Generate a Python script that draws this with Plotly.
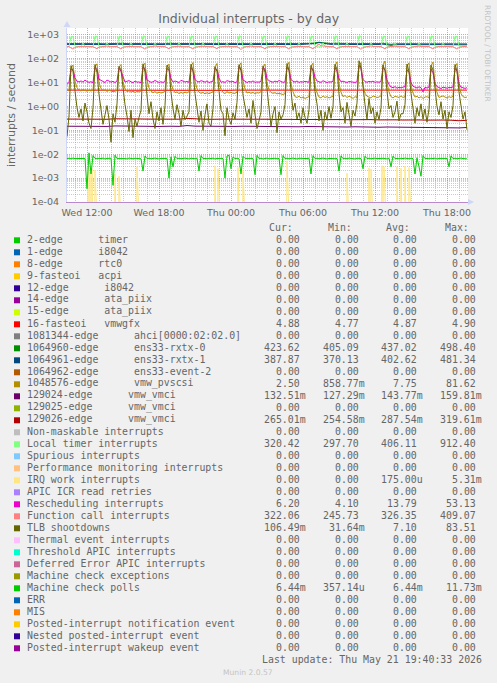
import plotly.graph_objects as go
from datetime import datetime, timedelta

# ---------------- data ----------------
START = datetime(2026, 5, 20, 10, 20)
VIEW_END = datetime(2026, 5, 21, 19, 45)

# 10-minute samples (Wed 10:20 .. Thu 19:40)
local_timer = [
    320, 324, 870, 845, 340, 322, 318, 325, 465, 330, 319, 321,
    318, 327, 895, 870, 332, 320, 323, 319, 480, 338, 321, 318,
    322, 320, 885, 860, 338, 317, 321, 326, 472, 333, 318, 323,
    319, 325, 900, 875, 336, 323, 318, 322, 468, 329, 324, 320,
    321, 318, 875, 850, 341, 319, 325, 320, 485, 335, 317, 322,
    317, 326, 890, 865, 334, 324, 320, 318, 476, 331, 322, 319,
    323, 321, 880, 858, 339, 318, 322, 327, 470, 337, 320, 316,
    320, 319, 905, 880, 333, 325, 317, 321, 482, 332, 323, 321,
    316, 324, 885, 862, 337, 320, 326, 319, 474, 334, 318, 324,
    322, 320, 898, 870, 335, 321, 297.7, 323, 479, 330, 321, 317,
    319, 327, 878, 855, 342, 318, 323, 320, 467, 336, 319, 322,
    321, 318, 892, 868, 331, 323, 320, 325, 484, 333, 324, 318,
    318, 325, 912.4, 885, 338, 319, 322, 317, 471, 329, 320, 323,
    323, 319, 888, 860, 336, 324, 318, 321, 478, 335, 317, 320,
    317, 322, 880, 852, 340, 320, 325, 318, 473, 331, 322, 319,
    320, 324, 895, 872, 334, 317, 321, 324, 469, 337, 318, 321,
    319, 321, 884, 858, 339, 322, 318, 323, 320.42,
]

function_call = [
    326, 330, 285, 258, 300, 321, 332, 327, 338, 325, 328, 331,
    329, 324, 292, 265, 308, 326, 328, 333, 342, 322, 330, 326,
    325, 331, 288, 260, 303, 323, 334, 329, 336, 327, 325, 329,
    330, 327, 283, 255, 298, 320, 329, 325, 345, 330, 332, 324,
    324, 329, 290, 263, 306, 325, 331, 328, 339, 323, 327, 330,
    328, 325, 287, 259, 301, 322, 327, 334, 341, 328, 331, 325,
    326, 332, 293, 266, 309, 324, 330, 326, 337, 326, 324, 328,
    331, 326, 284, 245.7, 297, 319, 333, 329, 344, 324, 329, 332,
    325, 328, 291, 262, 304, 327, 328, 331, 338, 325, 330, 326,
    327, 333, 286, 257, 302, 321, 334, 327, 340, 329, 326, 330,
    329, 324, 289, 264, 307, 360, 409, 350, 343, 325, 331, 327,
    324, 330, 285, 260, 300, 323, 331, 328, 338, 327, 328, 325,
    330, 327, 282, 252, 296, 320, 327, 333, 346, 330, 325, 329,
    326, 331, 290, 263, 305, 324, 332, 326, 339, 323, 330, 328,
    328, 325, 288, 259, 303, 322, 329, 331, 342, 328, 327, 324,
    325, 329, 286, 261, 301, 326, 333, 327, 337, 326, 329, 331,
    327, 324, 284, 258, 299, 321, 328, 330, 322.06,
]

rescheduling = [
    8.5, 10.2, 38, 33, 16, 11.5, 10.8, 11.9, 10.6, 12.8, 11.2, 10.4,
    11.0, 10.1, 44, 36, 14, 12.5, 11.3, 10.2, 12.9, 11.8, 10.6, 11.4,
    10.2, 11.8, 41, 30, 17, 10.7, 11.5, 12.2, 10.9, 10.1, 11.7, 10.6,
    10.8, 9.9, 46, 38, 13, 11.9, 10.4, 10.9, 12.4, 11.2, 10.3, 11.0,
    10.3, 11.2, 39, 34, 15, 10.6, 11.8, 11.1, 10.2, 12.6, 11.4, 10.7,
    11.3, 10.4, 43, 31, 14, 11.2, 10.8, 12.1, 11.5, 10.5, 11.9, 10.2,
    10.9, 11.6, 40, 35, 16, 10.4, 11.1, 10.3, 12.2, 11.4, 10.8, 11.5,
    10.1, 10.9, 47, 33, 13, 11.6, 10.2, 11.3, 10.6, 11.9, 10.4, 10.8,
    10.6, 11.3, 42, 37, 15, 12.0, 11.4, 10.5, 11.7, 10.8, 12.3, 11.1,
    10.4, 10.8, 45, 32, 14, 11.3, 10.7, 11.8, 10.3, 11.1, 10.6, 11.4,
    11.2, 10.5, 41, 36, 17, 11.8, 10.9, 10.4, 12.1, 11.5, 10.2, 10.9,
    10.7, 11.4, 44, 30, 15, 10.9, 11.6, 10.8, 10.3, 11.2, 10.7, 10.1,
    10.3, 10.9, 53.1, 38, 14, 11.1, 10.5, 11.3, 10.8, 11.6, 10.4, 10.9,
    10.5, 11.2, 44, 34, 13, 8.5, 6.6, 6.2, 6.8, 5.9, 6.4, 6.1,
    6.3, 6.9, 35, 28, 10, 7.1, 6.5, 6.0, 6.7, 6.2, 4.1, 6.4,
    6.0, 6.6, 38, 26, 9.5, 6.8, 6.3, 5.7, 6.5, 6.1, 5.9, 6.3,
    6.2, 6.7, 40, 30, 9.0, 6.5, 6.1, 5.8, 6.2,
]

pvscsi = [
    4.6, 5.0, 42, 55, 12, 6.2, 4.9, 4.5, 5.1, 4.7, 4.4, 4.8,
    4.5, 4.9, 48, 62, 10, 5.8, 4.6, 5.0, 4.3, 4.8, 4.5, 4.2,
    4.4, 4.7, 45, 58, 11, 5.5, 4.2, 4.6, 4.0, 4.4, 3.9, 4.3,
    4.1, 4.5, 52, 66, 13, 6.0, 4.4, 3.8, 4.2, 3.6, 4.0, 3.7,
    3.9, 4.3, 47, 60, 10, 5.2, 3.8, 4.1, 3.5, 3.9, 3.6, 4.0,
    3.7, 4.2, 50, 70, 12, 5.6, 4.0, 3.6, 3.9, 3.4, 3.8, 3.5,
    3.8, 4.1, 46, 64, 11, 5.3, 3.9, 3.5, 4.2, 3.7, 3.9, 3.6,
    3.6, 4.0, 49, 68, 12, 5.5, 3.7, 4.0, 3.6, 3.9, 3.5, 3.8,
    3.7, 4.2, 45, 60, 10, 5.0, 3.9, 3.6, 3.8, 3.4, 3.6, 3.3,
    3.2, 3.5, 51, 72, 9, 4.2, 2.6, 2.4, 2.7, 2.3, 2.5, 2.2,
    2.4, 2.6, 48, 66, 8, 3.8, 2.5, 2.3, 2.8, 2.4, 2.6, 2.3,
    2.5, 2.7, 53, 75, 9, 4.0, 2.6, 2.9, 2.4, 2.7, 2.5, 2.2,
    2.6, 2.4, 50, 70, 8, 3.6, 2.7, 2.5, 2.3, 2.8, 2.6, 2.4,
    2.5, 2.8, 55, 81.6, 10, 4.1, 2.6, 2.3, 2.7, 2.5, 2.4, 2.8,
    2.4, 2.6, 49, 68, 8, 3.7, 2.5, 2.7, 2.3, 2.6, 2.2, 2.5,
    2.6, 2.3, 52, 73, 9, 3.9, 2.4, 2.6, 2.8, 2.5, 2.3, 2.6,
    2.4, 2.7, 47, 64, 8, 3.5, 2.6, 2.4, 2.5,
]

tlb_shootdowns = [
    0.055, 0.4, 52, 30, 4.5, 0.9, 0.35, 0.8, 0.25, 1.4, 0.6, 0.2,
    0.12, 0.9, 58, 26, 3.2, 0.6, 0.18, 0.45, 1.1, 0.3, 0.032, 0.5,
    0.22, 1.3, 49, 34, 5.1, 1.2, 0.4, 0.09, 0.7, 0.05, 0.3, 0.15,
    0.35, 0.7, 62, 28, 2.8, 0.5, 1.6, 0.3, 0.12, 0.6, 0.25, 0.9,
    0.18, 1.1, 55, 38, 4.0, 0.8, 0.3, 1.2, 0.5, 0.15, 0.7, 0.28,
    0.4, 0.6, 60, 31, 3.5, 1.0, 0.22, 0.65, 0.1, 0.45, 1.3, 0.2,
    0.15, 0.85, 47, 29, 4.8, 0.7, 0.5, 0.06, 0.9, 0.3, 0.18, 0.55,
    0.3, 1.5, 57, 35, 3.0, 1.1, 0.35, 0.8, 0.2, 1.8, 0.4, 0.12,
    0.25, 0.6, 51, 27, 5.5, 0.9, 0.15, 0.5, 1.0, 0.08, 0.6, 0.3,
    0.45, 1.2, 64, 33, 3.8, 0.7, 1.4, 0.3, 0.55, 0.2, 0.9, 0.35,
    0.2, 0.75, 53, 30, 4.2, 1.3, 0.25, 0.7, 0.1, 0.6, 0.28, 1.0,
    0.32, 1.0, 59, 36, 3.3, 0.6, 0.9, 0.2, 1.5, 0.4, 0.15, 0.7,
    0.4, 1.4, 83.5, 40, 6.0, 1.2, 0.3, 2.2, 0.5, 0.9, 0.2, 0.6,
    0.28, 0.9, 56, 32, 4.5, 0.8, 1.1, 0.35, 0.6, 1.7, 0.25, 0.5,
    0.5, 1.2, 61, 29, 3.6, 0.7, 0.2, 0.9, 0.4, 1.3, 0.3, 0.8,
    0.22, 0.8, 54, 34, 5.0, 1.0, 0.45, 1.6, 0.3, 0.7, 0.12, 0.6,
    0.35, 1.1, 58, 31, 4.0, 0.9, 0.3, 0.6, 0.106,
]

machine_check_polls = [
    0.0066, 0.0068, 0.0065, 0.0069, 0.0066, 0.0067, 0.0064, 0.0068, 0.0066, 0.0067, 0.00036, 0.0115,
    0.0015, 0.0088, 0.0067, 0.0065, 0.0068, 0.0066, 0.0069, 0.0064, 0.0067, 0.0066, 0.0068, 0.0005,
    0.0092, 0.0066, 0.0067, 0.0065, 0.0068, 0.0066, 0.0064, 0.0069, 0.0067, 0.0065, 0.0068, 0.0066,
    0.0067, 0.0065, 0.002, 0.0085, 0.0066, 0.0068, 0.0065, 0.0067, 0.0069, 0.0066, 0.0064, 0.0067,
    0.0068, 0.0066, 0.0067, 0.001, 0.0078, 0.003, 0.0082, 0.0066, 0.0068, 0.0065, 0.0067, 0.0069,
    0.0066, 0.0064, 0.0068, 0.0067, 0.0065, 0.0069, 0.002, 0.0088, 0.0066, 0.0067, 0.0065, 0.0068,
    0.0066, 0.0069, 0.0064, 0.0067, 0.0068, 0.0065, 0.0067, 0.001, 0.0085, 0.0092, 0.0025, 0.0078,
    0.0066, 0.0068, 0.0065, 0.0015, 0.0082, 0.0067, 0.0066, 0.0068, 0.0065, 0.0067, 0.0014, 0.009,
    0.0066, 0.0068, 0.0064, 0.0067, 0.0069, 0.0065, 0.0067, 0.0066, 0.0068, 0.0065, 0.0067, 0.0014,
    0.0088, 0.0066, 0.0068, 0.0065, 0.0067, 0.0069, 0.0066, 0.0064, 0.0068, 0.0067, 0.0065, 0.0068,
    0.0066, 0.0069, 0.0015, 0.0087, 0.0066, 0.0068, 0.0065, 0.0067, 0.0069, 0.0066, 0.0064, 0.0067,
    0.0068, 0.0066, 0.0065, 0.0067, 0.002, 0.0086, 0.0066, 0.0068, 0.0065, 0.0069, 0.0067, 0.0066,
    0.0064, 0.0068, 0.0066, 0.0067, 0.0025, 0.0083, 0.0066, 0.0068, 0.0065, 0.0067, 0.0069, 0.0066,
    0.0065, 0.0067, 0.0068, 0.0066, 0.0064, 0.0069, 0.003, 0.0084, 0.0066, 0.0067, 0.0065, 0.0068,
    0.0066, 0.0069, 0.0067, 0.0065, 0.0068, 0.0066, 0.0015, 0.0072, 0.003, 0.0012, 0.0088, 0.0066,
    0.0067, 0.0065, 0.0068, 0.0066, 0.0069, 0.0064, 0.0067, 0.0066, 0.0068, 0.0065, 0.0067, 0.003,
    0.0086, 0.0066, 0.0068, 0.0065, 0.0067, 0.0069, 0.0066, 0.0065, 0.00644,
]

# 20-minute samples
rxtx0 = [
    438, 445, 432, 440, 436, 442, 434, 450, 439, 431, 444, 437,
    441, 447, 435, 438, 433, 440, 436, 452, 441, 434, 439, 443,
    432, 446, 437, 441, 435, 438, 440, 449, 433, 437, 442, 436,
    437, 444, 439, 432, 438, 441, 435, 451, 436, 440, 434, 439,
    442, 448, 434, 437, 441, 433, 438, 453, 440, 436, 432, 440,
    436, 447, 465, 498.4, 470, 445, 439, 450, 437, 434, 440, 436,
    433, 446, 438, 441, 435, 439, 437, 452, 432, 405.1, 428, 434,
    431, 445, 428, 433, 427, 430, 429, 448, 431, 426, 432, 428,
    430, 444, 427, 425, 423.62,
]
rxtx1 = [
    402, 409, 398, 404, 400, 406, 399, 413, 403, 396, 407, 401,
    405, 410, 399, 402, 397, 404, 400, 415, 405, 398, 403, 407,
    396, 409, 401, 405, 399, 402, 404, 412, 397, 401, 406, 400,
    401, 408, 403, 396, 402, 405, 399, 414, 400, 404, 398, 403,
    406, 411, 398, 401, 405, 397, 402, 416, 404, 400, 396, 404,
    400, 410, 440, 481.3, 445, 410, 403, 413, 401, 398, 404, 400,
    397, 409, 402, 405, 399, 403, 401, 415, 396, 370.1, 392, 398,
    395, 408, 392, 397, 391, 394, 393, 411, 395, 390, 396, 392,
    394, 407, 391, 389, 387.87,
]

# 40-minute samples
vmwgfx = [
    4.88, 4.86, 4.87, 4.89, 4.85, 4.87, 4.88, 4.86, 4.90, 4.87, 4.86, 4.88, 4.87,
    4.85, 4.89, 4.87, 4.86, 4.88, 4.87, 4.86, 4.77, 4.87, 4.88, 4.86, 4.87, 4.89,
    4.86, 4.87, 4.88, 4.85, 4.87, 4.86, 4.88, 4.87, 4.89, 4.86, 4.87, 4.88, 4.86,
    4.87, 4.85, 4.88, 4.87, 4.86, 4.89, 4.87, 4.86, 4.88, 4.87, 4.86, 4.88,
]
vmci_129026 = [
    0.300, 0.296, 0.305, 0.298, 0.302, 0.295, 0.308, 0.300, 0.297, 0.303, 0.299, 0.294, 0.306,
    0.301, 0.296, 0.319, 0.302, 0.298, 0.293, 0.304, 0.299, 0.296, 0.301, 0.292, 0.298, 0.295,
    0.289, 0.297, 0.291, 0.286, 0.294, 0.288, 0.283, 0.290, 0.285, 0.281, 0.287, 0.279, 0.284,
    0.276, 0.282, 0.278, 0.273, 0.280, 0.275, 0.270, 0.277, 0.272, 0.268, 0.2546, 0.265,
]
vmci_129024 = [
    0.150, 0.148, 0.152, 0.149, 0.151, 0.147, 0.154, 0.150, 0.148, 0.152, 0.149, 0.146, 0.153,
    0.150, 0.148, 0.1598, 0.151, 0.149, 0.146, 0.152, 0.149, 0.147, 0.150, 0.145, 0.148, 0.146,
    0.143, 0.147, 0.144, 0.142, 0.146, 0.143, 0.140, 0.144, 0.141, 0.139, 0.142, 0.138, 0.141,
    0.136, 0.139, 0.137, 0.134, 0.138, 0.135, 0.133, 0.136, 0.134, 0.131, 0.1273, 0.1325,
]

# IRQ work: sparse 5-minute samples (all other samples are 0)
irq_work_sample_idx = [21, 23, 25, 28, 48, 52, 70, 148, 151, 171, 176, 220, 280,
                       302, 304, 315, 317, 330, 334, 338, 342]
irq_work_values = [0.003, 0.0018, 0.0025, 0.0022, 0.0015, 0.0012, 0.003, 0.0033, 0.0025,
                   0.0028, 0.0022, 0.0053, 0.0016, 0.0027, 0.0024, 0.0033, 0.003, 0.003,
                   0.0026, 0.0032, 0.0028]
IRQ_SAMPLES = 401

# legend table
legend_labels = [
    "2-edge      timer", "1-edge      i8042", "8-edge      rtc0", "9-fasteoi   acpi",
    "12-edge      i8042", "14-edge      ata_piix", "15-edge      ata_piix",
    "16-fasteoi   vmwgfx", "1081344-edge      ahci[0000:02:02.0]",
    "1064960-edge      ens33-rxtx-0", "1064961-edge      ens33-rxtx-1",
    "1064962-edge      ens33-event-2", "1048576-edge      vmw_pvscsi",
    "129024-edge      vmw_vmci", "129025-edge      vmw_vmci", "129026-edge      vmw_vmci",
    "Non-maskable interrupts", "Local timer interrupts", "Spurious interrupts",
    "Performance monitoring interrupts", "IRQ work interrupts", "APIC ICR read retries",
    "Rescheduling interrupts", "Function call interrupts", "TLB shootdowns",
    "Thermal event interrupts", "Threshold APIC interrupts", "Deferred Error APIC interrupts",
    "Machine check exceptions", "Machine check polls", "ERR", "MIS",
    "Posted-interrupt notification event", "Nested posted-interrupt event",
    "Posted-interrupt wakeup event",
]
legend_colors = [
    "#00CC00", "#0066B3", "#FF8000", "#FFCC00", "#330099", "#990099", "#CCFF00", "#FF0000",
    "#808080", "#008F00", "#00487D", "#B35A00", "#B38F00", "#6B006B", "#8FB300", "#B30000",
    "#BEBEBE", "#80FF80", "#80C9FF", "#FFC080", "#FFE680", "#AA80FF", "#EE00CC", "#FF8080",
    "#666600", "#FFBFFF", "#00FFCC", "#CC6699", "#999900", "#00CC00", "#0066B3", "#FF8000",
    "#FFCC00", "#330099", "#990099",
]
Z = "0.00"
cur_vals = [Z, Z, Z, Z, Z, Z, Z, "4.88", Z, "423.62", "387.87", Z, "2.50", "132.51m", Z,
            "265.01m", Z, "320.42", Z, Z, Z, Z, "6.20", "322.06", "106.49m", Z, Z, Z, Z,
            "6.44m", Z, Z, Z, Z, Z]
min_vals = [Z, Z, Z, Z, Z, Z, Z, "4.77", Z, "405.09", "370.13", Z, "858.77m", "127.29m", Z,
            "254.58m", Z, "297.70", Z, Z, Z, Z, "4.10", "245.73", "31.64m", Z, Z, Z, Z,
            "357.14u", Z, Z, Z, Z, Z]
avg_vals = [Z, Z, Z, Z, Z, Z, Z, "4.87", Z, "437.02", "402.62", Z, "7.75", "143.77m", Z,
            "287.54m", Z, "406.11", Z, Z, "175.00u", Z, "13.79", "326.35", "7.10", Z, Z, Z, Z,
            "6.44m", Z, Z, Z, Z, Z]
max_vals = [Z, Z, Z, Z, Z, Z, Z, "4.90", Z, "498.40", "481.34", Z, "81.62", "159.81m", Z,
            "319.61m", Z, "912.40", Z, Z, "5.31m", Z, "53.13", "409.07", "83.51", Z, Z, Z, Z,
            "11.73m", Z, Z, Z, Z, Z]
col_headers = ["Cur:", "Min:", "Avg:", "Max:"]
y_tick_vals = [1e-4, 1e-3, 1e-2, 1e-1, 1e0, 1e1, 1e2, 1e3]
y_tick_text = ["1e-04", "1e-03", "1e-02", "1e-01", "1e+00", "1e+01", "1e+02", "1e+03"]

# ---------------- helpers ----------------
def times(step_min, n):
    return [START + timedelta(minutes=step_min * i) for i in range(n)]

W, H = 497, 683
PL, PR, PT, PB = 67, 468, 28, 202
def px(x):
    return (x - PL) / (PR - PL)
def py(y):
    return (PB - y) / (PB - PT)

FONT = "DejaVu Sans"
MONO = "DejaVu Sans Mono"
TXT = "#666666"
AXIS = "#CFD6F8"

fig = go.Figure()

def add_line(x, y, color):
    fig.add_trace(go.Scatter(x=x, y=y, mode="lines", line=dict(color=color, width=1),
                             hoverinfo="skip", showlegend=False))

irq_full = [0.0] * IRQ_SAMPLES
for i, v in zip(irq_work_sample_idx, irq_work_values):
    irq_full[i] = v
irq_plot = [v if v > 0 else 1e-9 for v in irq_full]  # zero drawn below the log floor

add_line(times(40, len(vmwgfx)), vmwgfx, legend_colors[7])
add_line(times(20, len(rxtx0)), rxtx0, legend_colors[9])
add_line(times(20, len(rxtx1)), rxtx1, legend_colors[10])
add_line(times(10, len(pvscsi)), pvscsi, legend_colors[12])
add_line(times(40, len(vmci_129024)), vmci_129024, legend_colors[13])
add_line(times(40, len(vmci_129026)), vmci_129026, legend_colors[15])
add_line(times(10, len(local_timer)), local_timer, legend_colors[17])
add_line(times(5, len(irq_plot)), irq_plot, legend_colors[20])
add_line(times(10, len(rescheduling)), rescheduling, legend_colors[22])
add_line(times(10, len(function_call)), function_call, legend_colors[23])
add_line(times(10, len(tlb_shootdowns)), tlb_shootdowns, legend_colors[24])
add_line(times(10, len(machine_check_polls)), machine_check_polls, legend_colors[29])

minor_y = [m * 10.0 ** e for e in range(-4, 4) for m in range(2, 10)]

fig.update_layout(
    width=W, height=H,
    margin=dict(l=PL, r=W - PR, t=PT, b=H - PB, pad=0),
    paper_bgcolor="#F0F0F0", plot_bgcolor="#FFFFFF",
    showlegend=False,
    title=dict(text="Individual interrupts - by day", x=248.7 / W, y=1 - 19 / H,
               xref="container", yref="container", xanchor="center", yanchor="middle",
               font=dict(family=FONT, size=12.5, color=TXT)),
    xaxis=dict(
        type="date", range=[START, VIEW_END],
        tick0="2026-05-20 00:00", dtick=6 * 3600 * 1000, tickformat="%a %H:%M",
        showgrid=True, gridcolor="rgba(222,79,79,0.55)", griddash="1px,1px", gridwidth=1,
        minor=dict(dtick=3600 * 1000, tick0="2026-05-20 00:00", showgrid=True,
                   gridcolor="rgba(143,143,143,0.45)", griddash="1px,1px", gridwidth=1),
        ticks="", showline=True, linecolor="#B98ACB", linewidth=1, zeroline=False,
        tickfont=dict(family=FONT, size=9.5, color=TXT), ticklabelstandoff=2,
    ),
    yaxis=dict(
        type="log", range=[-4, 3.293],
        tickmode="array", tickvals=y_tick_vals, ticktext=y_tick_text,
        showgrid=True, gridcolor="rgba(222,79,79,0.55)", griddash="1px,1px", gridwidth=1,
        minor=dict(tickmode="array", tickvals=minor_y, showgrid=True,
                   gridcolor="rgba(143,143,143,0.45)", griddash="1px,1px", gridwidth=1),
        ticks="", showline=True, linecolor=AXIS, linewidth=1, zeroline=False,
        tickfont=dict(family=FONT, size=9.5, color=TXT), ticklabelstandoff=5,
    ),
)

ann = []
shapes = []

# y-axis title
ann.append(dict(text="interrupts / second", x=px(11), y=py(115), xref="paper", yref="paper",
                textangle=-90, showarrow=False, xanchor="center", yanchor="middle",
                font=dict(family=FONT, size=11, color=TXT)))
# rrdtool credit
ann.append(dict(text="RRDTOOL / TOBI OETIKER", x=px(487.5), y=py(53.5), xref="paper",
                yref="paper", textangle=90, showarrow=False, xanchor="center",
                yanchor="middle", font=dict(family=FONT, size=7.5, color="#C4C4C4")))

# axis arrows
shapes.append(dict(type="path", xref="paper", yref="paper", line=dict(width=0),
                   fillcolor=AXIS,
                   path=f"M {px(63.5)},{py(27)} L {px(67)},{py(21)} L {px(70.5)},{py(27)} Z"))
shapes.append(dict(type="path", xref="paper", yref="paper", line=dict(width=0),
                   fillcolor=AXIS,
                   path=f"M {px(468)},{py(199)} L {px(474)},{py(202)} L {px(468)},{py(205)} Z"))

# legend table
ROW0, ROWSTEP = 239.3, 12.0
HEAD_Y = 227.3
col_right = [300.7, 359.7, 417.7, 476.7]
head_right = [294.3, 353.0, 411.0, 470.0]
SUFW = 5.95
mono = dict(family=MONO, size=9.9, color=TXT)

for h, xr in zip(col_headers, head_right):
    ann.append(dict(text=h, x=px(xr), y=py(HEAD_Y), xref="paper", yref="paper",
                    showarrow=False, xanchor="right", yanchor="middle", font=mono,
                    borderpad=0))

for i, lab in enumerate(legend_labels):
    yrow = ROW0 + ROWSTEP * i
    shapes.append(dict(type="rect", xref="paper", yref="paper",
                       x0=px(14), x1=px(20), y0=py(yrow + 4), y1=py(yrow - 2),
                       fillcolor=legend_colors[i], line=dict(width=0)))
    ann.append(dict(text=lab.replace(" ", "\u00a0"), x=px(26), y=py(yrow), xref="paper",
                    yref="paper", showarrow=False, xanchor="left", yanchor="middle",
                    font=mono, borderpad=0))
    for vals, xr in zip([cur_vals, min_vals, avg_vals, max_vals], col_right):
        s = vals[i]
        xx = xr + (SUFW if s[-1].isalpha() else 0)
        ann.append(dict(text=s, x=px(xx), y=py(yrow), xref="paper", yref="paper",
                        showarrow=False, xanchor="right", yanchor="middle", font=mono,
                        borderpad=0))

ann.append(dict(text="Last\u00a0update:\u00a0Thu\u00a0May\u00a021\u00a019:40:33\u00a02026",
                x=px(482.7), y=py(659), xref="paper", yref="paper", showarrow=False,
                xanchor="right", yanchor="middle", font=mono, borderpad=0))
ann.append(dict(text="Munin 2.0.57", x=px(248.3), y=py(672), xref="paper", yref="paper",
                showarrow=False, xanchor="center", yanchor="middle",
                font=dict(family=FONT, size=7.6, color="#C4C4C4")))

fig.update_layout(annotations=ann, shapes=shapes)
fig.write_html("out.html",
               config={"displayModeBar": False, "staticPlot": True},
               post_script="document.body.style.margin='0';"
                           "document.body.style.overflow='hidden';")
